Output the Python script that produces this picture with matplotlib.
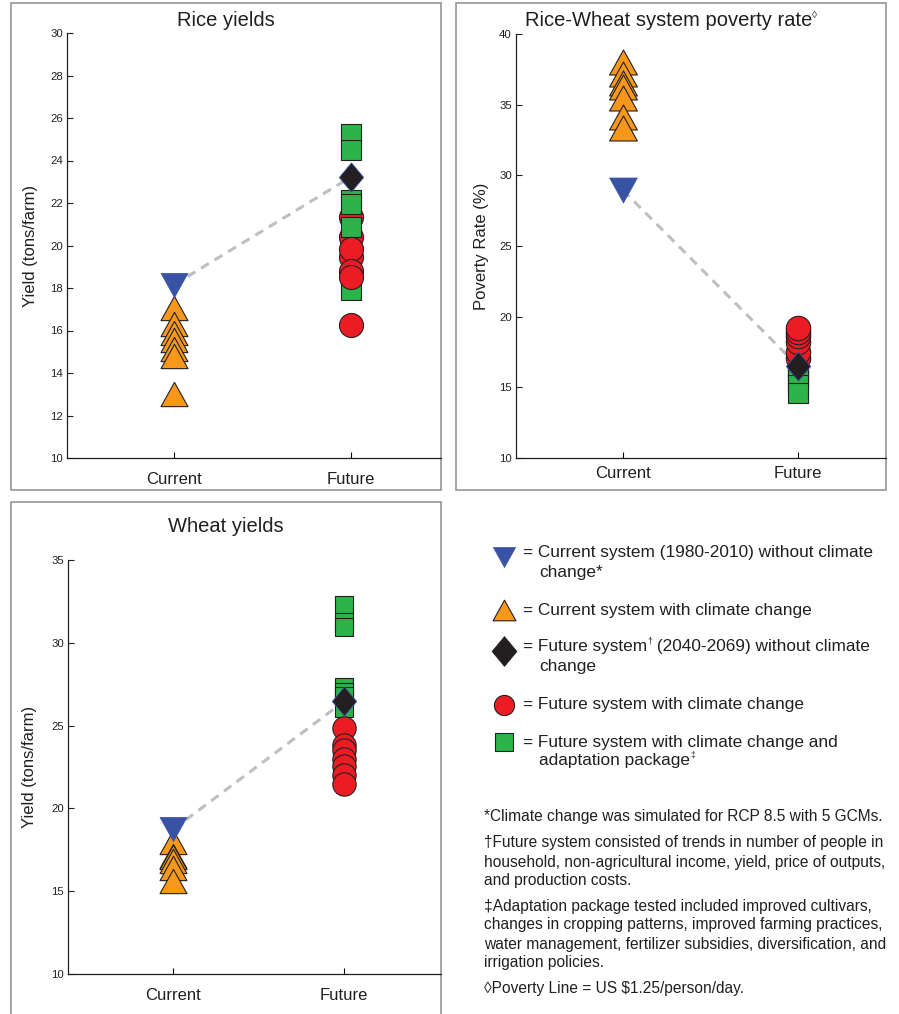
import matplotlib
matplotlib.use('Agg')
import matplotlib.pyplot as plt
from matplotlib.path import Path
from matplotlib.patches import Rectangle
from matplotlib.lines import Line2D

plt.rcParams['font.family'] = ['Liberation Sans', 'DejaVu Sans']

# ---------------- data ----------------
categories = ['Current', 'Future']

rice_current_base = 18.15
rice_current_cc = [17.05, 16.3, 15.9, 15.55, 15.15, 14.8, 13.0]
rice_future_base = 23.23
rice_future_cc_back = [21.35, 20.4]
rice_future_adapt = [25.27, 24.5, 22.16, 21.93, 20.88, 17.9]
rice_future_cc_front = [19.45, 19.82, 18.8, 18.5, 16.25]

pov_current_base = 28.95
pov_current_cc = [38.0, 37.15, 36.55, 36.25, 35.45, 34.15, 33.35]
pov_future_base = 16.5
pov_future_adapt = [16.2, 15.85, 15.5, 15.15, 14.6]
pov_future_cc = [17.1, 17.5, 18.2, 18.6, 18.9, 19.2]

wheat_current_base = 18.73
wheat_current_cc = [18.0, 17.15, 17.05, 16.8, 16.4, 15.6]
wheat_future_base = 26.46
wheat_future_adapt = [32.3, 31.25, 30.95, 27.35, 27.0, 26.8, 26.05]
wheat_future_cc = [24.85, 23.8, 23.55, 23.0, 22.55, 22.0, 21.5]

rice_yticks = [10, 12, 14, 16, 18, 20, 22, 24, 26, 28, 30]
pov_yticks = [10, 15, 20, 25, 30, 35, 40]
wheat_yticks = [10, 15, 20, 25, 30, 35]

legend_labels = [
    ['= Current system (1980-2010) without climate', 'change*'],
    ['= Current system with climate change'],
    ['= Future system', '\u2020', ' (2040-2069) without climate', 'change'],
    ['= Future system with climate change'],
    ['= Future system with climate change and', 'adaptation package', '\u2021'],
]
footnotes = [
    ['*Climate change was simulated for RCP 8.5 with 5 GCMs.'],
    ['\u2020Future system consisted of trends in number of people in',
     'household, non-agricultural income, yield, price of outputs,',
     'and production costs.'],
    ['\u2021Adaptation package tested included improved cultivars,',
     'changes in cropping patterns, improved farming practices,',
     'water management, fertilizer subsidies, diversification, and',
     'irrigation policies.'],
    ['\u25CAPoverty Line = US $1.25/person/day.'],
]

# ---------------- style ----------------
W, H = 899, 1014
BLUE = '#3953A4'
ORANGE = '#F7981D'
BLACK = '#231F20'
RED = '#ED1C24'
GREEN = '#2DB34A'
EDGE = '#231F20'
TXT = '#231F20'

tri_up = Path([(0, 0.9), (1, -0.9), (-1, -0.9), (0, 0.9)],
              [Path.MOVETO, Path.LINETO, Path.LINETO, Path.CLOSEPOLY])
tri_dn = Path([(0, -0.9), (-1, 0.9), (1, 0.9), (0, -0.9)],
              [Path.MOVETO, Path.LINETO, Path.LINETO, Path.CLOSEPOLY])
diam = Path([(0, 1.2), (1, 0), (0, -1.2), (-1, 0), (0, 1.2)],
            [Path.MOVETO, Path.LINETO, Path.LINETO, Path.LINETO, Path.CLOSEPOLY])


def fx(x):
    return x / W


def fy(y):
    return 1 - y / H


fig = plt.figure(figsize=(W / 100, H / 100), dpi=100)

# panel frames
for (x0, y0, x1, y1) in [(11, 3, 441, 490), (456, 3, 886, 490), (11, 502, 441, 1016)]:
    fig.add_artist(Rectangle((fx(x0), fy(y1)), fx(x1) - fx(x0), fy(y0) - fy(y1),
                             transform=fig.transFigure, fill=False,
                             edgecolor='#8C8C8C', lw=1.1, zorder=0))


def make_axes(left, right, top, bottom, xlim, ylim, yticks, ylabel, labelpad):
    ax = fig.add_axes([fx(left), fy(bottom), fx(right) - fx(left), fy(top) - fy(bottom)])
    ax.set_xlim(*xlim)
    ax.set_ylim(*ylim)
    ax.patch.set_alpha(0)
    for s in ['top', 'right']:
        ax.spines[s].set_visible(False)
    for s in ['left', 'bottom']:
        ax.spines[s].set_color(BLACK)
        ax.spines[s].set_linewidth(0.9)
    ax.set_yticks(yticks)
    ax.set_xticks([1, 2])
    ax.set_xticklabels(categories, fontsize=12, color=TXT)
    ax.tick_params(axis='y', direction='in', length=4, width=0.8, labelsize=8.2,
                   colors=TXT, pad=3)
    ax.tick_params(axis='x', direction='in', length=4, width=0.8, pad=10)
    ax.set_ylabel(ylabel, fontsize=12, color=TXT, labelpad=labelpad)
    return ax


def draw_panel(ax, cur_base, cur_cc, fut_base, groups, sizes):
    tri_ms, circ_ms, sq_ms = sizes
    ax.plot([1, 2], [cur_base, fut_base], color='#BFBFBF', lw=2.2,
            linestyle=(0, (3, 2.2)), zorder=1)
    for v in cur_cc:
        ax.plot([1], [v], marker=tri_up, ms=tri_ms, mfc=ORANGE, mec=EDGE, mew=0.8,
                linestyle='none', zorder=3)
    ax.plot([1], [cur_base], marker=tri_dn, ms=tri_ms, mfc=BLUE, mec=BLUE, mew=0.5,
            linestyle='none', zorder=4)
    z = 3
    for kind, vals in groups:
        for v in vals:
            if kind == 'o':
                ax.plot([2], [v], marker='o', ms=circ_ms, mfc=RED, mec=EDGE, mew=0.8,
                        linestyle='none', zorder=z)
            else:
                ax.plot([2], [v], marker='s', ms=sq_ms, mfc=GREEN, mec=EDGE, mew=0.8,
                        linestyle='none', zorder=z)
        z += 0.1
    ax.plot([2], [fut_base], marker=diam, ms=21, mfc=BLACK, mec=BLUE, mew=0.6,
            linestyle='none', zorder=6)


# Rice
ax1 = make_axes(67, 441, 33, 458, (0.397, 2.507), (10, 30), rice_yticks,
                'Yield (tons/farm)', 9)
draw_panel(ax1, rice_current_base, rice_current_cc, rice_future_base,
           [('o', rice_future_cc_back), ('s', rice_future_adapt), ('o', rice_future_cc_front)],
           (19.4, 17.3, 13.7))

# Poverty
ax2 = make_axes(516, 886, 34, 458, (0.389, 2.503), (10, 40), pov_yticks,
                'Poverty Rate (%)', 7)
ax2.tick_params(axis='x', pad=6)
draw_panel(ax2, pov_current_base, pov_current_cc, pov_future_base,
           [('s', pov_future_adapt), ('o', pov_future_cc)],
           (20.0, 17.6, 13.7))

# Wheat
ax3 = make_axes(68, 441, 560, 974, (0.386, 2.567), (10, 35), wheat_yticks,
                'Yield (tons/farm)', 10)
draw_panel(ax3, wheat_current_base, wheat_current_cc, wheat_future_base,
           [('s', wheat_future_adapt), ('o', wheat_future_cc)],
           (19.4, 16.8, 13.0))

# Titles
fig.text(fx(226), fy(21), 'Rice yields', fontsize=14.5, color=TXT, ha='center', va='center')
fig.text(fx(226), fy(527), 'Wheat yields', fontsize=14.5, color=TXT, ha='center', va='center')

renderer = fig.canvas.get_renderer()


def seg_text(x, y, parts, fontsize):
    """parts: list of (text, is_sup)"""
    cur = x
    for txt, sup in parts:
        if sup:
            t = fig.text(fx(cur), fy(y - 6), txt, fontsize=fontsize * 0.5, color=TXT,
                         ha='left', va='center')
        else:
            t = fig.text(fx(cur), fy(y), txt, fontsize=fontsize, color=TXT,
                         ha='left', va='center')
        bb = t.get_window_extent(renderer)
        cur += bb.width
    return cur - x


# poverty title, centered
tmp = fig.text(0, 0, 'Rice-Wheat system poverty rate', fontsize=14.5)
wmain = tmp.get_window_extent(renderer).width
tmp.remove()
seg_text(671 - (wmain + 5) / 2, 21, [('Rice-Wheat system poverty rate', False), ('\u25CA', True)], 14.5)

# Legend
leg_fs = 12.4
lx_marker = 504
lx_text = 523
lx_text2 = 539
fig.add_artist(Line2D([fx(lx_marker)], [fy(557)], transform=fig.transFigure, marker=tri_dn,
                      ms=16, mfc=BLUE, mec=BLUE, mew=0.5, linestyle='none'))
fig.add_artist(Line2D([fx(lx_marker)], [fy(610)], transform=fig.transFigure, marker=tri_up,
                      ms=16.5, mfc=ORANGE, mec=EDGE, mew=0.8, linestyle='none'))
fig.add_artist(Line2D([fx(lx_marker)], [fy(651)], transform=fig.transFigure, marker=diam,
                      ms=21.5, mfc=BLACK, mec=BLACK, mew=0.5, linestyle='none'))
fig.add_artist(Line2D([fx(lx_marker)], [fy(705)], transform=fig.transFigure, marker='o',
                      ms=14.5, mfc=RED, mec=EDGE, mew=0.8, linestyle='none'))
fig.add_artist(Line2D([fx(lx_marker)], [fy(742)], transform=fig.transFigure, marker='s',
                      ms=13.5, mfc=GREEN, mec=EDGE, mew=0.8, linestyle='none'))

fig.text(fx(lx_text), fy(553), legend_labels[0][0], fontsize=leg_fs, color=TXT, va='center')
fig.text(fx(lx_text2), fy(572), legend_labels[0][1], fontsize=leg_fs, color=TXT, va='center')
fig.text(fx(lx_text), fy(610), legend_labels[1][0], fontsize=leg_fs, color=TXT, va='center')
seg_text(lx_text, 647, [(legend_labels[2][0], False), (legend_labels[2][1], True),
                        (legend_labels[2][2], False)], leg_fs)
fig.text(fx(lx_text2), fy(666), legend_labels[2][3], fontsize=leg_fs, color=TXT, va='center')
fig.text(fx(lx_text), fy(704), legend_labels[3][0], fontsize=leg_fs, color=TXT, va='center')
fig.text(fx(lx_text), fy(742), legend_labels[4][0], fontsize=leg_fs, color=TXT, va='center')
seg_text(lx_text2, 761, [(legend_labels[4][1], False), (legend_labels[4][2], True)], leg_fs)

# Footnotes
fn_fs = 11.2
fn_y = [[816], [843, 862, 880], [906, 925, 944, 963], [988]]
for lines, ys in zip(footnotes, fn_y):
    for line, yy in zip(lines, ys):
        fig.text(fx(484), fy(yy), line, fontsize=fn_fs, color=TXT, va='center', ha='left')

fig.savefig('out.png', dpi=100)
